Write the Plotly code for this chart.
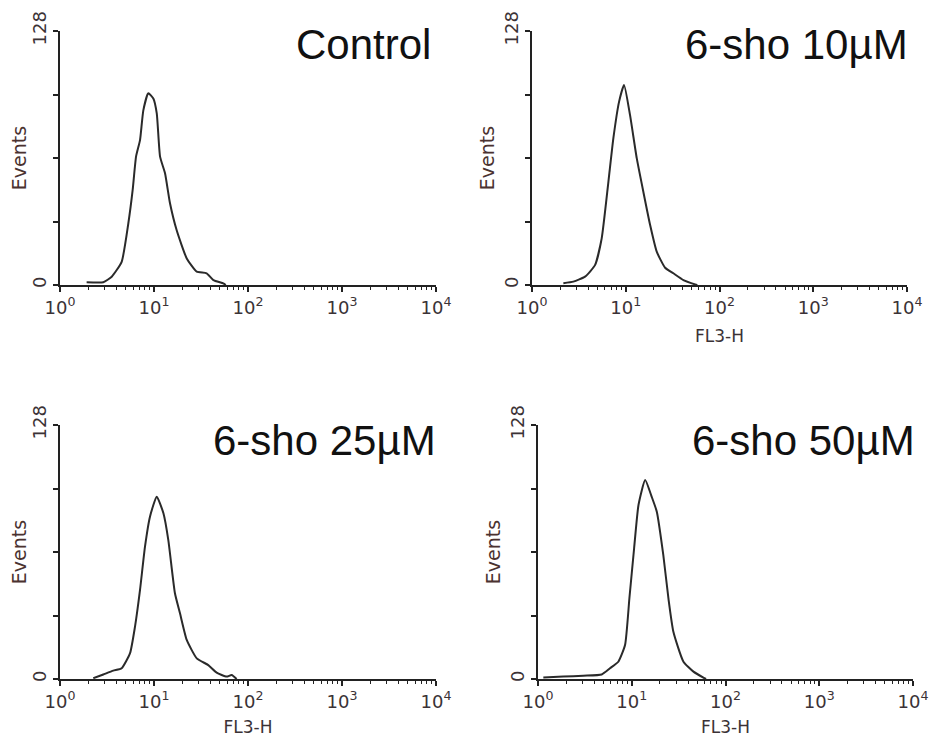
import plotly.graph_objects as go

# ---- data ----
titles = ["Control", "6-sho 10µM", "6-sho 25µM", "6-sho 50µM"]

ctrl_x = [1.92, 2.89, 3.55, 4.53, 5.33, 5.93, 6.44, 7.1, 7.7, 8.7, 9.84, 10.7, 11.6, 13.1, 14.8, 17.4, 22.3, 28.5, 36.3, 42.8, 54.6, 58.0]
ctrl_y = [1.4, 1.4, 4.2, 11.7, 31, 47.9, 64.7, 73, 88, 96.6, 94, 86.5, 64.7, 56.3, 41.2, 27.7, 13.4, 6.7, 5.9, 2.5, 0.8, 0]

s10_x = [2.16, 2.76, 3.68, 4.7, 5.54, 6.53, 7.38, 8.49, 9.59, 11.1, 13.1, 15.4, 18.2, 21.4, 26.3, 32.2, 41.2, 55.0, 58.0]
s10_y = [0.9, 1.7, 4.2, 10, 23.5, 52, 74, 92.4, 100.8, 85.7, 63.9, 47, 30.2, 16.8, 8.7, 5.9, 2.5, 0.3, 0]

s25_x = [2.26, 2.89, 3.69, 4.53, 5.56, 6.28, 7.1, 8.02, 9.06, 10.7, 12.6, 14.2, 16.7, 18.9, 22.3, 28.5, 37.8, 46.4, 59.3, 67.0, 75.7]
s25_y = [0.4, 2.3, 4.2, 5.4, 13, 26.4, 44.9, 66.7, 81.8, 91.9, 83.5, 70, 43.2, 33.1, 19.7, 10.4, 7, 3.2, 1.2, 2, 0]

s50_x = [1.14, 1.86, 3.04, 4.78, 5.86, 7.19, 8.48, 9.44, 10.6, 11.8, 13.9, 16.3, 18.5, 21.7, 24.6, 27.8, 35.6, 45.5, 58.1, 62.0]
s50_y = [0.7, 1.2, 1.7, 2.3, 5.4, 8.7, 17.1, 40.7, 65.9, 87.7, 100.3, 91.9, 84.3, 62.5, 40.7, 23.8, 8.7, 3.7, 0.7, 0]

series = [(ctrl_x, ctrl_y), (s10_x, s10_y), (s25_x, s25_y), (s50_x, s50_y)]
x_labels = ["FL3-H", "FL3-H", "FL3-H", "FL3-H"]
show_xlabel = [False, True, True, True]

x_tickvals = [1, 10, 100, 1000, 10000]
x_ticktext = ["10<sup>0</sup>", "10<sup>1</sup>", "10<sup>2</sup>", "10<sup>3</sup>", "10<sup>4</sup>"]
y_tickvals = [0, 32, 64, 96, 128]
y_ticktext = ["0", "", "", "", "128"]

# ---- layout geometry (pixels in the 941x745 window; page body has an 8px margin) ----
OFF = 8
W, H = 941 - 2 * OFF, 745 - 2 * OFF
boxes = [  # x0, x1, ytop, ybottom in window pixels
    (60, 436, 31, 285),
    (532, 907, 31, 285),
    (60, 436, 425, 679),
    (538, 913, 425, 679),
]
title_right = [433, 910, 438, 917]
title_y = [44, 44, 440, 440]

minor_vals = [m * 10 ** d for d in range(4) for m in range(2, 10)]

txt_col = "#3b3236"
lab_font = "DejaVu Sans, Verdana, sans-serif"
fig = go.Figure()
layout = dict(
    width=W, height=H, margin=dict(l=0, r=0, t=0, b=0, autoexpand=False),
    paper_bgcolor="white", plot_bgcolor="white", showlegend=False,
    font=dict(family=lab_font, color=txt_col),
)
annotations = []
for i, ((xs, ys), (x0, x1, yt, yb)) in enumerate(zip(series, boxes)):
    n = "" if i == 0 else str(i + 1)
    fig.add_trace(go.Scatter(
        x=xs, y=ys, mode="lines", xaxis="x" + n, yaxis="y" + n,
        line=dict(color="#2a2a2a", width=2, shape="spline", smoothing=0.5), hoverinfo="skip",
    ))
    layout["xaxis" + n] = dict(
        type="log", range=[0, 4], domain=[(x0 - OFF) / W, (x1 - OFF) / W], anchor="y" + n, automargin=False,
        showgrid=False, zeroline=False, showline=True, linecolor="#222222", linewidth=2,
        tickmode="array", tickvals=x_tickvals, ticktext=x_ticktext,
        ticks="outside", ticklen=5, tickwidth=1.5, tickcolor="#222222",
        tickfont=dict(size=18, color=txt_col, family=lab_font),
        minor=dict(tickvals=minor_vals, ticks="outside", ticklen=3, tickwidth=1.2, tickcolor="#222222", showgrid=False),
        title=dict(text=x_labels[i] if show_xlabel[i] else "", font=dict(size=17, color=txt_col, family=lab_font), standoff=14),
    )
    layout["yaxis" + n] = dict(
        range=[0, 128], domain=[1 - (yb - OFF) / H, 1 - (yt - OFF) / H], anchor="x" + n, automargin=False,
        showgrid=False, zeroline=False, showline=True, linecolor="#222222", linewidth=2,
        tickmode="array", tickvals=y_tickvals, ticktext=y_ticktext,
        ticks="outside", ticklen=5, tickwidth=1.5, tickcolor="#222222",
        tickangle=-90, tickfont=dict(size=18, color=txt_col, family=lab_font),
        title=dict(text="Events", font=dict(size=19, color="#4a3230", family=lab_font), standoff=1),
    )
    annotations.append(dict(
        text=titles[i], x=(title_right[i] - OFF) / W, y=1 - (title_y[i] - OFF) / H,
        xref="paper", yref="paper", xanchor="right", yanchor="middle",
        showarrow=False, font=dict(size=42, color="#111111", family="Liberation Sans, Arial, sans-serif"),
    ))
layout["annotations"] = annotations
fig.update_layout(**layout)
fig.write_html("out.html")
